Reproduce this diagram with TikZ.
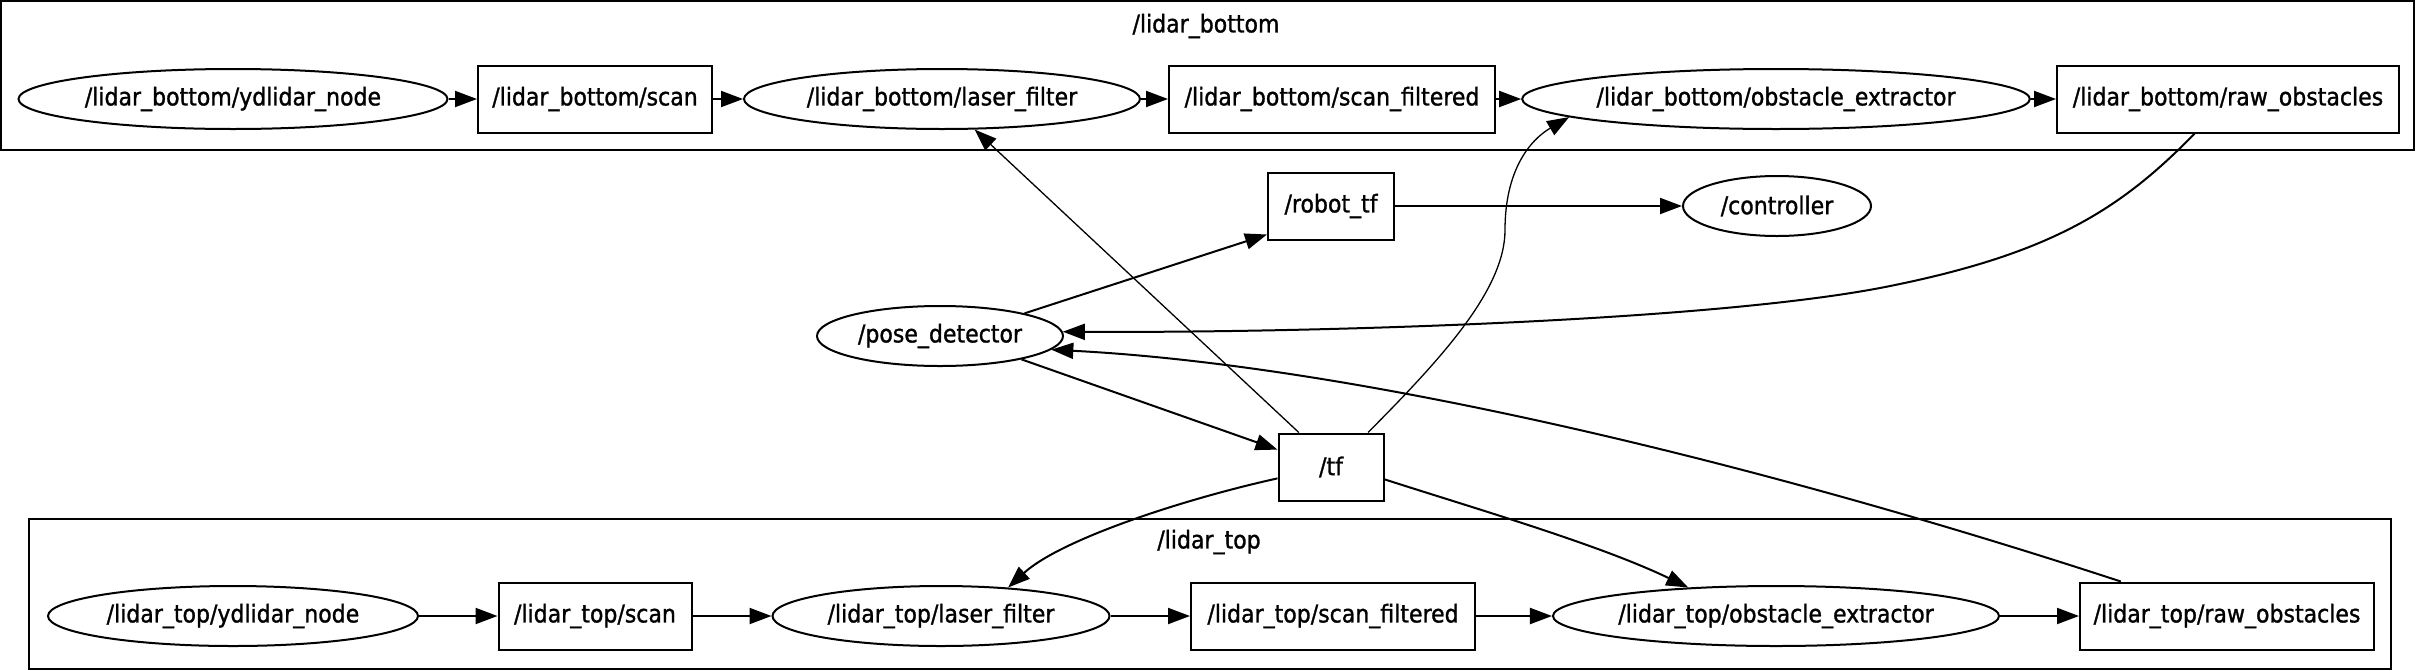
\documentclass[tikz,border=0pt]{standalone}
\usepackage{fontspec}
\setmainfont{DejaVu Sans Condensed}[FakeBold=1.2]
\usetikzlibrary{shapes.geometric,arrows.meta}

\begin{document}
\begin{tikzpicture}[
    x=1pt, y=-1pt,
    font=\fontsize{24.5}{28}\selectfont,
    topic/.style={rectangle, draw, line width=2pt, inner sep=0pt, minimum height=67pt},
    rosnode/.style={ellipse, draw, line width=2pt, inner sep=0pt, minimum height=60pt},
    cluster/.style={rectangle, draw, line width=2pt, inner sep=0pt},
    arrow/.style={-{Triangle[length=22pt,width=16pt]}, line width=2pt},
    thinarrow/.style={arrow, line width=1.3pt}
]
    \useasboundingbox (0,0) rectangle (2416,670);
    % clusters
    \node[cluster, minimum width=2413pt, minimum height=149pt] (lbottom) at (1207.5,75.5) {};
    \node (lbottomlabel) at (1206,26) {/lidar\_bottom};
    \node[cluster, minimum width=2362pt, minimum height=150pt] (ltop) at (1210,594) {};
    \node (ltoplabel) at (1209,542) {/lidar\_top};
    % lidar_bottom row
    \node[rosnode, minimum width=429pt] (lbydl) at (233,99) {/lidar\_bottom/ydlidar\_node};
    \node[topic, minimum width=234pt] (lbscan) at (595,99) {/lidar\_bottom/scan};
    \node[rosnode, minimum width=396pt] (lbfilt) at (942,99) {/lidar\_bottom/laser\_filter};
    \node[topic, minimum width=326pt] (lbscanf) at (1332,99) {/lidar\_bottom/scan\_filtered};
    \node[rosnode, minimum width=501pt] (lbobst) at (1776,99) {/lidar\_bottom/obstacle\_extractor};
    \node[topic, minimum width=342pt] (lbraw) at (2228,99) {/lidar\_bottom/raw\_obstacles};
    % middle
    \node[topic, minimum width=126pt] (robottf) at (1331,206) {/robot\_tf};
    \node[rosnode, minimum width=188pt] (ctrl) at (1777,206) {/controller};
    \node[rosnode, minimum width=246pt] (pose) at (940,336) {/pose\_detector};
    \node[topic, minimum width=105pt] (tf) at (1331,467) {/tf};
    % lidar_top row
    \node[rosnode, minimum width=370pt] (ltydl) at (233,616) {/lidar\_top/ydlidar\_node};
    \node[topic, minimum width=193pt] (ltscan) at (595,616) {/lidar\_top/scan};
    \node[rosnode, minimum width=337pt] (ltfilt) at (941,616) {/lidar\_top/laser\_filter};
    \node[topic, minimum width=284pt] (ltscanf) at (1333,616) {/lidar\_top/scan\_filtered};
    \node[rosnode, minimum width=445pt] (ltobst) at (1776,616) {/lidar\_top/obstacle\_extractor};
    \node[topic, minimum width=294pt] (ltraw) at (2227,616) {/lidar\_top/raw\_obstacles};

    \draw[arrow] (lbydl) -- (lbscan);
    \draw[arrow] (lbscan) -- (lbfilt);
    \draw[arrow] (lbfilt) -- (lbscanf);
    \draw[arrow] (lbscanf) -- (lbobst);
    \draw[arrow] (lbobst) -- (lbraw);
    \draw[arrow] (ltydl) -- (ltscan);
    \draw[arrow] (ltscan) -- (ltfilt);
    \draw[arrow] (ltfilt) -- (ltscanf);
    \draw[arrow] (ltscanf) -- (ltobst);
    \draw[arrow] (ltobst) -- (ltraw);

    \draw[arrow] (pose.15) -- (robottf.204);
    \draw[arrow] (robottf) -- (ctrl);
    \draw[arrow] (pose.-16) -- (tf.162);
    \draw[thinarrow] (tf.133) -- (lbfilt);
    \draw[thinarrow] (tf.43) .. controls (1440,360) and (1505,290) .. (1505,230)
        .. controls (1505,170) and (1530,140) .. (lbobst.185);
    \draw[arrow] (lbraw.226) .. controls (2120,210) and (2050,255) .. (1880,288)
        .. controls (1700,322) and (1300,333) .. (pose.2);
    \draw[arrow] (ltraw.162) .. controls (1750,460) and (1350,365) .. (pose.-7);
    \draw[arrow] (tf.192) .. controls (1180,500) and (1060,540) .. (ltfilt.23);
    \draw[arrow] (tf.-13) .. controls (1480,510) and (1600,545) .. (ltobst.162);
\end{tikzpicture}
\end{document}
